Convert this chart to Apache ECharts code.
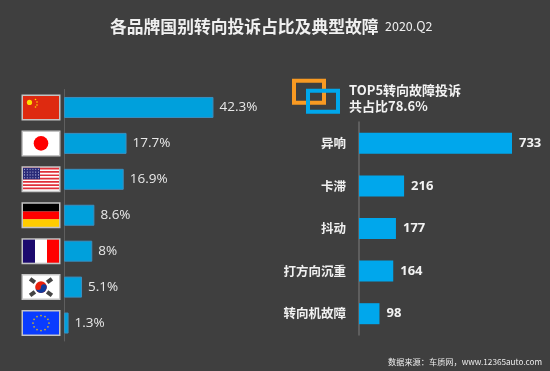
<!DOCTYPE html>
<html><head><meta charset="utf-8">
<style>html,body{margin:0;padding:0;background:#3f3f3f}#c{width:550px;height:371px}</style>
<script src="https://cdn.jsdelivr.net/npm/echarts@6/dist/echarts.min.js"></script>
</head><body><div id="c"></div>
<script>
const countries = ['中国','日本','美国','德国','法国','韩国','欧盟'];
const shares = [42.3,17.7,16.9,8.6,8,5.1,1.3];
const shareLabels = ['42.3%','17.7%','16.9%','8.6%','8%','5.1%','1.3%'];
const faults = ['异响','卡滞','抖动','打方向沉重','转向机故障'];
const faultCounts = [733,216,177,164,98];
const FONT = '"Noto Sans CJK SC","Open Sans",sans-serif';

function r(x,y,w,h,fill){return {type:'rect',shape:{x,y,width:w,height:h},style:{fill}};}
function c(x,y,rad,fill){return {type:'circle',shape:{cx:x,cy:y,r:rad},style:{fill}};}
const flagW=36,flagH=23;
const flagDraw=[
 ()=>[r(0,0,flagW,flagH,'#de2a10'),c(6.5,6.5,2.6,'#ffde00'),c(12.5,3.5,.8,'#ffde00'),c(14,6,.8,'#ffde00'),c(14,9,.8,'#ffde00'),c(12.5,11,.8,'#ffde00')],
 ()=>[r(0,0,flagW,flagH,'#ffffff'),c(18,11.5,7.3,'#ff0000')],
 ()=>{const a=[r(0,0,flagW,flagH,'#ffffff')];for(let i=0;i<7;i++)a.push(r(0,i*3.3,flagW,1.7,'#e0303a'));a.push(r(0,0,17,11.5,'#2a2a78'));
   for(let i=0;i<4;i++)for(let j=0;j<6;j++)a.push(c(1.5+j*2.8,1.5+i*2.8,.55,'#c8c8e8'));return a;},
 ()=>[r(0,0,flagW,7.7,'#000000'),r(0,7.7,flagW,7.7,'#ff0000'),r(0,15.4,flagW,7.6,'#ffcc00')],
 ()=>[r(0,0,12,flagH,'#1c0a6e'),r(12,0,12,flagH,'#ffffff'),r(24,0,12,flagH,'#ff0000')],
 ()=>{const a=[r(0,0,flagW,flagH,'#ffffff'),c(18,11.5,5.8,'#e8200c'),
   {type:'path',shape:{pathData:'M12.2 11.5A5.8 5.8 0 0 0 23.8 11.5A2.9 2.9 0 0 0 18 11.5A2.9 2.9 0 0 1 12.2 11.5Z'},style:{fill:'#103a9c'}}];
   [[9.5,5],[26.5,5],[9.5,18],[26.5,18]].forEach(p=>a.push({type:'rect',shape:{x:p[0]-3,y:p[1]-2,width:6,height:4},rotation:((p[0]<18)===(p[1]<11)?-1:1)*0.65,originX:p[0],originY:p[1],style:{fill:'#444444'}}));return a;},
 ()=>{const a=[r(0,0,flagW,flagH,'#0a3cff')];for(let i=0;i<12;i++){const t=i/12*Math.PI*2;a.push(c(18+8*Math.cos(t),11.5+7.5*Math.sin(t),.9,'#c8b030'));}return a;}
];

const option={
 backgroundColor:'#3f3f3f',animation:false,
 title:[
  {text:'各品牌国别转向投诉占比及典型故障',left:110,top:18,padding:0,textStyle:{color:'#f0f0f0',fontSize:16.8,fontWeight:'bold',fontFamily:FONT}},
  {text:'2020.Q2',left:385,top:20,padding:0,textStyle:{color:'#eeeeee',fontSize:12.5,fontWeight:'normal',fontFamily:FONT}},
  {text:'TOP5转向故障投诉\n共占比78.6%',left:349,top:82,padding:0,textStyle:{color:'#f2f2f2',fontSize:13,fontWeight:'bold',fontFamily:FONT,lineHeight:16}},
  {text:'数据来源：车质网，www.12365auto.com',left:388,top:358,padding:0,textStyle:{color:'#eeeeee',fontSize:8.2,fontWeight:'normal',fontFamily:FONT}}
 ],
 grid:[
  {left:64,top:89.5,width:200,height:251.5},
  {left:359,top:122,width:160,height:213}
 ],
 xAxis:[
  {gridIndex:0,type:'value',min:0,max:56.6,show:false},
  {gridIndex:1,type:'value',min:0,max:766.5,show:false}
 ],
 yAxis:[
  {gridIndex:0,type:'category',inverse:true,data:countries,axisTick:{show:false},axisLabel:{show:false},axisLine:{lineStyle:{color:'#5f5f5f',width:1}},splitLine:{show:false}},
  {gridIndex:1,type:'category',inverse:true,data:faults,axisTick:{show:false},axisLine:{lineStyle:{color:'#6a6a6a',width:1.5}},splitLine:{show:false},
   axisLabel:{color:'#f0f0f0',fontSize:12.5,fontWeight:'bold',fontFamily:FONT,margin:13}}
 ],
 series:[
  {type:'bar',xAxisIndex:0,yAxisIndex:0,data:shares,barWidth:21,
   itemStyle:{color:'#00a0dc',borderColor:'#3a8fc0',borderWidth:1},
   label:{show:true,position:'right',distance:6,color:'#e8e8e8',fontSize:13.5,fontFamily:'"Open Sans",sans-serif',
     formatter:p=>shareLabels[p.dataIndex]}},
  {type:'bar',xAxisIndex:1,yAxisIndex:1,data:faultCounts,barWidth:21,
   itemStyle:{color:'#00a7ec'},
   label:{show:true,position:'right',distance:7,color:'#f2f2f2',fontSize:13,fontWeight:'bold',fontFamily:'"Open Sans",sans-serif'}},
  {type:'custom',xAxisIndex:0,yAxisIndex:0,silent:true,z:5,data:countries.map((_,i)=>[0,i]),encode:{x:0,y:1},
   renderItem:(params,api)=>{
     const p=api.coord([0,api.value(1)]);
     return {type:'group',x:p[0]-41,y:p[1]-flagH/2,children:[
       {type:'rect',shape:{x:-1.5,y:-1.5,width:flagW+3,height:flagH+3},style:{fill:'#c4c4c4'}},
       ...flagDraw[params.dataIndex]()
     ]};
   }},
  {type:'custom',xAxisIndex:1,yAxisIndex:1,silent:true,z:5,data:[[0,0]],encode:{x:0,y:1},
   renderItem:(params,api)=>{
     const p=api.coord([0,0]);
     return {type:'group',x:p[0],y:p[1],children:[
       {type:'rect',shape:{x:-65,y:-62.5,width:30,height:22},style:{fill:'none',stroke:'#f99a22',lineWidth:4}},
       {type:'rect',shape:{x:-51,y:-52.5,width:30,height:21},style:{fill:'none',stroke:'#00a7ec',lineWidth:4}}
     ]};
   }}
 ]
};
echarts.init(document.getElementById('c')).setOption(option);
</script></body></html>
